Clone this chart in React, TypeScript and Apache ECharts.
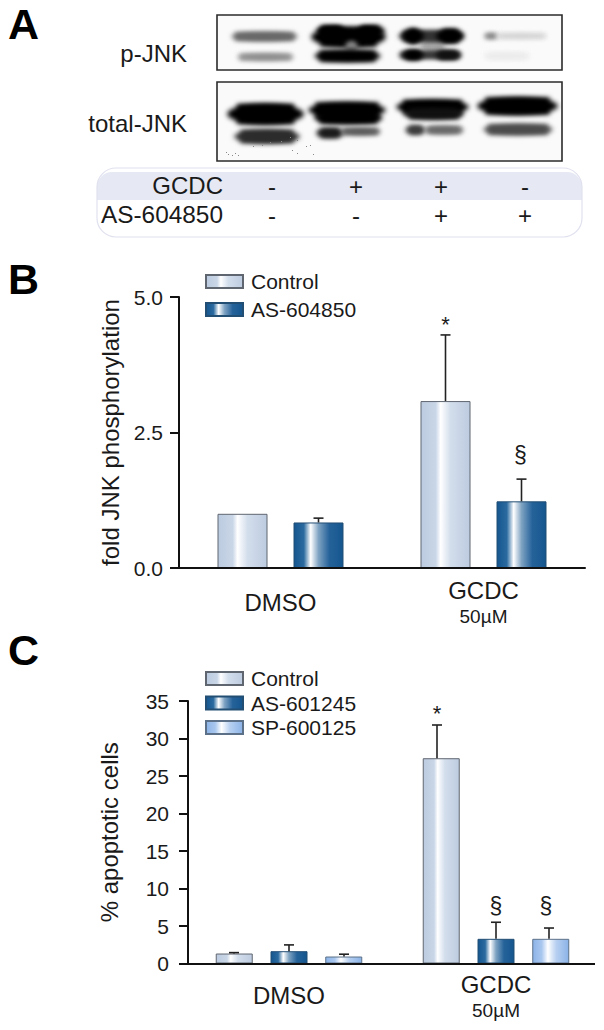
import React, { useEffect, useRef } from "react";
import * as echarts from "echarts";

const FONT = "Liberation Sans";
const INK = "#1a1a1a";

const categories = ["DMSO", "GCDC"];
const subLabels = ["", "50µM"];

// Panel B
const bControl = [1.0, 3.08];
const bControlErr = [null, 4.3];
const bAs = [0.84, 1.23];
const bAsErr = [0.92, 1.64];
const bMarks = [
  [1, 4.52, "*", 0],
  [1, 2.08, "§", 1],
];

// Panel C
const cControl = [1.33, 27.37];
const cControlErr = [1.45, 31.8];
const cAs601 = [1.64, 3.29];
const cAs601Err = [2.48, 5.5];
const cSp = [0.93, 3.29];
const cSpErr = [1.24, 4.73];
const cMarks = [
  [1, 33.5, "*", 0],
  [1, 7.64, "§", 1],
  [1, 7.64, "§", 2],
];

// Panel A table
const gcdcSigns = ["-", "+", "+", "-"];
const as604Signs = ["-", "-", "+", "+"];

const grad = (stops: [number, string][]) => ({
  type: "linear",
  x: 0,
  y: 0,
  x2: 1,
  y2: 0,
  colorStops: stops.map(([offset, color]) => ({ offset, color })),
});

const controlFill = grad([
  [0, "#bccbe0"],
  [0.3, "#c9d6e7"],
  [0.4, "#ffffff"],
  [0.6, "#d3deec"],
  [1, "#bdcbe0"],
]);
const asFill = grad([
  [0, "#155690"],
  [0.2, "#2a6a9f"],
  [0.34, "#ffffff"],
  [0.5, "#7fa3c2"],
  [0.72, "#25629a"],
  [1, "#15568e"],
]);
const spFill = grad([
  [0, "#8cb4e8"],
  [0.25, "#a9c7ef"],
  [0.42, "#ffffff"],
  [0.65, "#b7d0f1"],
  [1, "#8ab2e6"],
]);

type Band = { x0: number; x1: number; y: number; h: number; c: string };

function drawBlot(
  w: number,
  h: number,
  ox: number,
  oy: number,
  bands: Band[],
  blur: number,
  specks: number[][]
) {
  const cv = document.createElement("canvas");
  cv.width = w;
  cv.height = h;
  const ctx = cv.getContext("2d") as CanvasRenderingContext2D;
  ctx.fillStyle = "#fafafa";
  ctx.fillRect(0, 0, w, h);
  ctx.filter = `blur(${blur}px)`;
  for (const b of bands) {
    ctx.fillStyle = b.c;
    ctx.beginPath();
    ctx.ellipse(
      (b.x0 + b.x1) / 2 - ox,
      b.y - oy,
      (b.x1 - b.x0) / 2,
      b.h / 2,
      0,
      0,
      Math.PI * 2
    );
    ctx.fill();
    ctx.fillRect(
      b.x0 + b.h / 2 - ox,
      b.y - b.h / 2 - oy,
      b.x1 - b.x0 - b.h,
      b.h
    );
  }
  ctx.filter = "none";
  ctx.fillStyle = "#888";
  for (const s of specks) ctx.fillRect(s[0] - ox, s[1] - oy, 1, 1);
  return cv.toDataURL("image/png");
}

const band = (x0: number, x1: number, y: number, h: number, c: string): Band => ({
  x0,
  x1,
  y,
  h,
  c,
});

const blotOneBands = [
  band(231, 298, 36.5, 8, "#666666"),
  band(237, 294, 57, 6, "#8c8c8c"),
  band(420, 445, 46, 14, "#aaa"),
  band(311, 386, 37, 19, "#000"),
  band(316, 346, 31, 10, "#000"),
  band(356, 385, 31, 10, "#000"),
  band(345, 358, 46, 8, "#888"),
  band(314, 381, 56, 11, "#000"),
  band(398, 464, 36, 10, "#333"),
  band(402, 424, 36, 14, "#000"),
  band(436, 464, 36, 13, "#000"),
  band(398, 462, 55, 6, "#333"),
  band(402, 424, 55, 9, "#000"),
  band(435, 461, 55, 8, "#111"),
  band(484, 498, 36, 4, "#777"),
  band(496, 547, 36, 4, "#d0d0d0"),
  band(484, 530, 56, 5, "#eaeaea"),
];

const blotTwoBands = [
  band(227, 304, 114, 20, "#000"),
  band(308, 386, 110, 15, "#000"),
  band(314, 383, 118, 11, "#000"),
  band(396, 469, 107, 14, "#000"),
  band(404, 464, 114, 10, "#111"),
  band(477, 558, 106, 17, "#000"),
  band(234, 300, 136.5, 13, "#2c2c2c"),
  band(316, 344, 133, 9, "#1a1a1a"),
  band(340, 381, 131.5, 6, "#555"),
  band(405, 426, 130, 8, "#3a3a3a"),
  band(424, 464, 130, 7, "#666"),
  band(483, 553, 129.5, 10, "#4c4c4c"),
];

const blotTwoSpecks = [
  [253, 146], [262, 145], [270, 142], [281, 141], [292, 150], [297, 153],
  [306, 146], [310, 145], [313, 154], [226, 152], [228, 154], [232, 155],
  [235, 153], [238, 155], [297, 140], [290, 137],
];

function errorSeries(
  xAxisIndex: number,
  top: (number | null)[],
  err: (number | null)[],
  dx: number,
  nudge: number[]
) {
  const data = top
    .map((t, i) => [i, t, err[i], nudge[i]])
    .filter((r) => r[2] !== null);
  return {
    type: "custom",
    xAxisIndex,
    yAxisIndex: xAxisIndex,
    silent: true,
    z: 4,
    encode: { x: 0, y: [1, 2] },
    data,
    renderItem: (_: any, api: any) => {
      const cat = api.value(0);
      const x = api.coord([cat, 0])[0] + dx + api.value(3);
      const y1 = api.coord([cat, api.value(1)])[1];
      const y2 = api.coord([cat, api.value(2)])[1];
      const style = { stroke: "#222", lineWidth: 1.6 };
      return {
        type: "group",
        children: [
          { type: "line", shape: { x1: x, y1, x2: x, y2 }, style },
          { type: "line", shape: { x1: x - 5, y1: y2, x2: x + 5, y2 }, style },
        ],
      };
    },
  };
}

function markSeries(xAxisIndex: number, marks: any[], offsets: number[]) {
  return {
    type: "custom",
    xAxisIndex,
    yAxisIndex: xAxisIndex,
    silent: true,
    z: 5,
    encode: { x: 0, y: 1 },
    data: marks.map((m) => ({ value: [m[0], m[1], m[3]], sign: m[2] })),
    renderItem: (params: any, api: any) => {
      const m = marks[params.dataIndex];
      const p = api.coord([api.value(0), api.value(1)]);
      const star = m[2] === "*";
      return {
        type: "text",
        x: p[0] + offsets[api.value(2)],
        y: p[1] + (star ? 1 : 0),
        style: {
          text: m[2],
          fontFamily: FONT,
          fontSize: star ? 22 : 23,
          fill: INK,
          align: "center",
          verticalAlign: "middle",
        },
      };
    },
  };
}

function barSeries(
  name: string,
  xAxisIndex: number,
  values: number[],
  color: any,
  border: string,
  barWidth: number,
  barGap: string
) {
  return {
    type: "bar",
    name,
    xAxisIndex,
    yAxisIndex: xAxisIndex,
    data: values,
    barWidth,
    barGap,
    silent: true,
    z: 2,
    itemStyle: { color, borderColor: border, borderWidth: 1 },
  };
}

const xAxisFor = (gridIndex: number, dLine: number, margin: number) => ({
  type: "category",
  gridIndex,
  data: categories,
  axisLine: { lineStyle: { color: "#111", width: 2 } },
  axisTick: {
    alignWithLabel: true,
    length: 9,
    lineStyle: { color: "#111", width: 2 },
  },
  axisLabel: {
    margin,
    interval: 0,
    formatter: (v: string) => {
      const i = categories.indexOf(v);
      return subLabels[i] ? `{g|${v}}\n{s|${subLabels[i]}}` : `{d|${v}}`;
    },
    rich: {
      d: { fontFamily: FONT, fontSize: 24, color: INK, lineHeight: dLine },
      g: { fontFamily: FONT, fontSize: 24, color: INK, lineHeight: 28 },
      s: { fontFamily: FONT, fontSize: 19, color: INK, lineHeight: 24 },
    },
  },
  z: 6,
});

const yAxisFor = (
  gridIndex: number,
  name: string,
  max: number,
  interval: number,
  margin: number,
  nameGap: number,
  offset: number,
  fmt: (v: number) => string
) => ({
  type: "value",
  gridIndex,
  min: 0,
  max,
  interval,
  offset,
  name,
  nameLocation: "middle",
  nameGap,
  nameTextStyle: { fontFamily: FONT, fontSize: 24, color: INK },
  splitLine: { show: false },
  axisLine: { show: true, lineStyle: { color: "#111", width: 2 } },
  axisTick: { show: true, length: 9, lineStyle: { color: "#111", width: 2 } },
  axisLabel: {
    margin,
    fontFamily: FONT,
    fontSize: 21,
    color: INK,
    formatter: fmt,
  },
  z: 6,
});

const legendFor = (names: string[], top: number, itemGap: number) => ({
  data: names,
  orient: "vertical",
  left: 200,
  top,
  itemWidth: 37,
  itemHeight: 13,
  itemGap,
  icon: "rect",
  selectedMode: false,
  textStyle: { fontFamily: FONT, fontSize: 21, color: INK, padding: [0, 0, 0, 3] },
});

function buildGraphic() {
  const els: any[] = [];
  const txt = (
    text: string,
    x: number,
    y: number,
    fontSize: number,
    align: string,
    fontWeight = "normal"
  ) =>
    els.push({
      type: "text",
      x,
      y,
      style: {
        text,
        x: 0,
        y: 0,
        fontFamily: FONT,
        fontSize,
        fontWeight,
        fill: fontWeight === "bold" ? "#000" : INK,
        align,
        verticalAlign: "middle",
      },
    });

  txt("A", 8, 24, 43, "left", "bold");
  txt("B", 8, 279, 43, "left", "bold");
  txt("C", 8, 650, 43, "left", "bold");

  txt("p-JNK", 187, 53, 24, "right");
  txt("total-JNK", 187, 123, 24, "right");

  const blots = [
    { x: 217, y: 15, w: 345, h: 55, bands: blotOneBands, blur: 2.8, specks: [] },
    { x: 217, y: 82, w: 345, h: 79, bands: blotTwoBands, blur: 2.4, specks: blotTwoSpecks },
  ];
  for (const b of blots) {
    els.push({
      type: "image",
      x: b.x,
      y: b.y,
      style: {
        image: drawBlot(b.w, b.h, b.x, b.y, b.bands, b.blur, b.specks as number[][]),
        x: 0,
        y: 0,
        width: b.w,
        height: b.h,
      },
    });
    els.push({
      type: "rect",
      shape: { x: b.x, y: b.y, width: b.w, height: b.h },
      style: { fill: "none", stroke: "#2b2b2b", lineWidth: 1.6 },
    });
  }

  els.push({
    type: "rect",
    shape: { x: 97, y: 172, width: 485, height: 28, r: [15, 15, 0, 0] },
    style: { fill: "#e6e9f3" },
  });
  els.push({
    type: "rect",
    shape: { x: 97, y: 168, width: 485, height: 69, r: 19 },
    style: { fill: "none", stroke: "#e0e1ef", lineWidth: 1.2 },
  });

  txt("GCDC", 223, 185, 24, "right");
  txt("AS-604850", 223, 214, 24.4, "right");
  const signX = [272, 356, 441, 525];
  gcdcSigns.forEach((s, i) => txt(s, signX[i], 186, 24, "center"));
  as604Signs.forEach((s, i) => txt(s, signX[i], 215, 24, "center"));

  // the lower axis stops short of its last band
  els.push({
    type: "rect",
    z: 100,
    shape: { x: 595, y: 960, width: 9, height: 7 },
    style: { fill: "#ffffff" },
  });
  return els;
}

export default function App() {
  const ref = useRef<HTMLDivElement>(null);
  useEffect(() => {
    const chart = echarts.init(ref.current as HTMLDivElement, null, {
      renderer: "svg",
      width: 604,
      height: 1030,
    });
    chart.setOption({
      animation: false,
      backgroundColor: "#ffffff",
      grid: [
        { left: 179, top: 297, width: 406, height: 271 },
        { left: 185.5, top: 701, width: 414, height: 262.5 },
      ],
      legend: [
        legendFor(["Control", "AS-604850"], 266, 7),
        legendFor(["Control", "AS-601245", "SP-600125"], 663, 3.5),
      ],
      xAxis: [xAxisFor(0, 52, 8), xAxisFor(1, 50, 7)],
      yAxis: [
        yAxisFor(0, "fold JNK phosphorylation", 5, 2.5, 16, 57, 0, (v) => v.toFixed(1)),
        yAxisFor(1, "% apoptotic cells", 35, 5, 19, 67, -2.5, (v) => String(v)),
      ],
      graphic: buildGraphic(),
      series: [
        barSeries("Control", 0, bControl, controlFill, "#5f6670", 50, "52%"),
        barSeries("AS-604850", 0, bAs, asFill, "#234e74", 50, "52%"),
        errorSeries(0, bControl, bControlErr, -38, [0, 0]),
        errorSeries(0, bAs, bAsErr, 38, [0, 0]),
        markSeries(0, bMarks, [-38, 37]),
        barSeries("Control", 1, cControl, controlFill, "#5f6670", 37, "48%"),
        barSeries("AS-601245", 1, cAs601, asFill, "#234e74", 37, "48%"),
        barSeries("SP-600125", 1, cSp, spFill, "#5c7188", 37, "48%"),
        errorSeries(1, cControl, cControlErr, -55, [0, -4]),
        errorSeries(1, cAs601, cAs601Err, 0, [0, 0]),
        errorSeries(1, cSp, cSpErr, 55, [0, -2]),
        markSeries(1, cMarks, [-59, 0, 50]),
      ],
    });
    return () => chart.dispose();
  }, []);
  return (
    <div
      ref={ref}
      style={{ position: "absolute", left: 0, top: 0, width: 604, height: 1030 }}
    />
  );
}
